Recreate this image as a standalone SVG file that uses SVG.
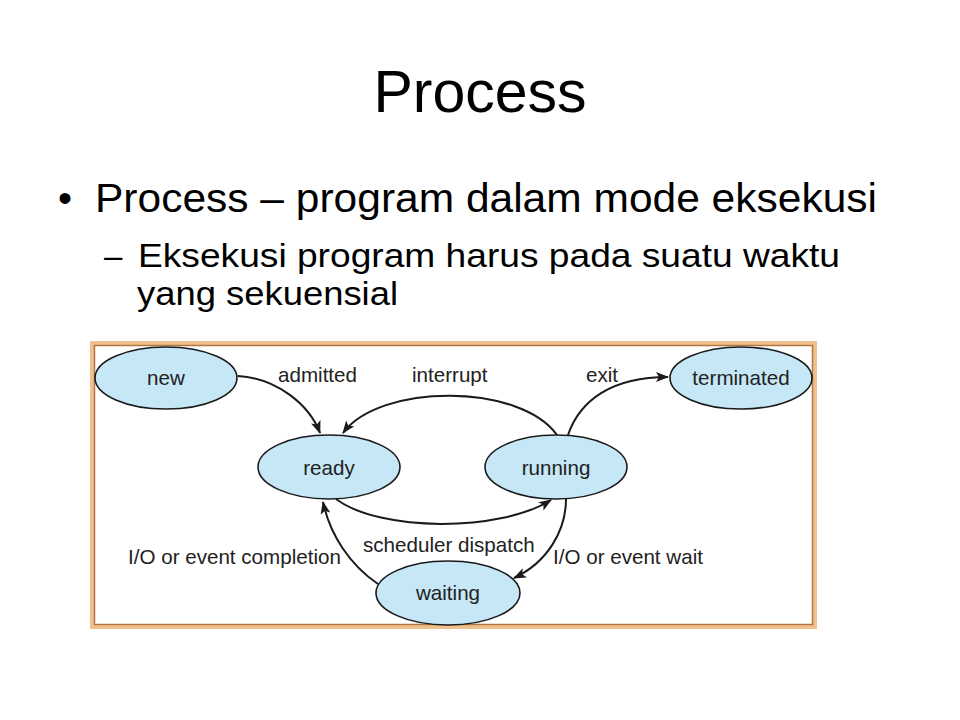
<svg xmlns="http://www.w3.org/2000/svg" width="960" height="720" viewBox="0 0 960 720">
<style>
.h{font-family:"Liberation Sans",Arial,sans-serif;fill:#000}
.n ellipse{fill:#c6e7f6;stroke:#1a1a1a;stroke-width:1.6}
.t{font-family:"Liberation Sans",Arial,sans-serif;font-size:20.6px;fill:#222}
.c path{fill:none;stroke:#1a1a1a;stroke-width:2}
</style>
<defs>
<marker id="ah" viewBox="0 0 13 10" refX="12" refY="5" markerWidth="13" markerHeight="10" markerUnits="userSpaceOnUse" orient="auto">
<path d="M0,0 L13,5 L0,10 L3,5 z" fill="#1a1a1a"/>
</marker>
</defs>
<rect width="960" height="720" fill="#fff"/>
<text class="h" x="480" y="112" font-size="59" text-anchor="middle">Process</text>
<text class="h" x="58" y="212" font-size="40">•</text>
<text class="h" x="95" y="212" font-size="40" textLength="782" lengthAdjust="spacingAndGlyphs">Process – program dalam mode eksekusi</text>
<text class="h" x="104" y="267" font-size="33">–</text>
<text class="h" x="138" y="267" font-size="33" textLength="702" lengthAdjust="spacingAndGlyphs">Eksekusi program harus pada suatu waktu</text>
<text class="h" x="137" y="305" font-size="33" textLength="261" lengthAdjust="spacingAndGlyphs">yang sekuensial</text>
<g id="frame">
<rect x="92.5" y="343.5" width="722" height="283" fill="#fff" stroke="#f0c08e" stroke-width="5"/>
<rect x="94.5" y="345.5" width="718" height="279" fill="none" stroke="#b07840" stroke-width="1.5"/>
</g>
<g id="connectors" class="c">
<path d="M238,376 C276,378 309,404 320,433" marker-end="url(#ah)"/>
<path d="M557,435 C520,383 380,383 343,433" marker-end="url(#ah)"/>
<path d="M568,435 C580,400 612,377 668,377" marker-end="url(#ah)"/>
<path d="M336,499 C380,532 500,532 551,500" marker-end="url(#ah)"/>
<path d="M566,499 C566,530 548,562 514,578" marker-end="url(#ah)"/>
<path d="M378,584 C350,565 330,535 323,502" marker-end="url(#ah)"/>
</g>
<g id="labels" class="t">
<text x="278" y="382">admitted</text>
<text x="412" y="382">interrupt</text>
<text x="586" y="382">exit</text>
<text x="363" y="552">scheduler dispatch</text>
<text x="128" y="564">I/O or event completion</text>
<text x="553" y="564">I/O or event wait</text>
</g>
<g id="new" class="n"><ellipse cx="166" cy="378" rx="71" ry="31"/><text class="t" x="166" y="385" text-anchor="middle">new</text></g>
<g id="ready" class="n"><ellipse cx="329" cy="467" rx="71" ry="32"/><text class="t" x="329" y="475" text-anchor="middle">ready</text></g>
<g id="running" class="n"><ellipse cx="556" cy="467" rx="71" ry="32"/><text class="t" x="556" y="475" text-anchor="middle">running</text></g>
<g id="terminated" class="n"><ellipse cx="741" cy="378" rx="71" ry="31"/><text class="t" x="741" y="385" text-anchor="middle">terminated</text></g>
<g id="waiting" class="n"><ellipse cx="448" cy="593" rx="72" ry="32"/><text class="t" x="448" y="600" text-anchor="middle">waiting</text></g>
</svg>
